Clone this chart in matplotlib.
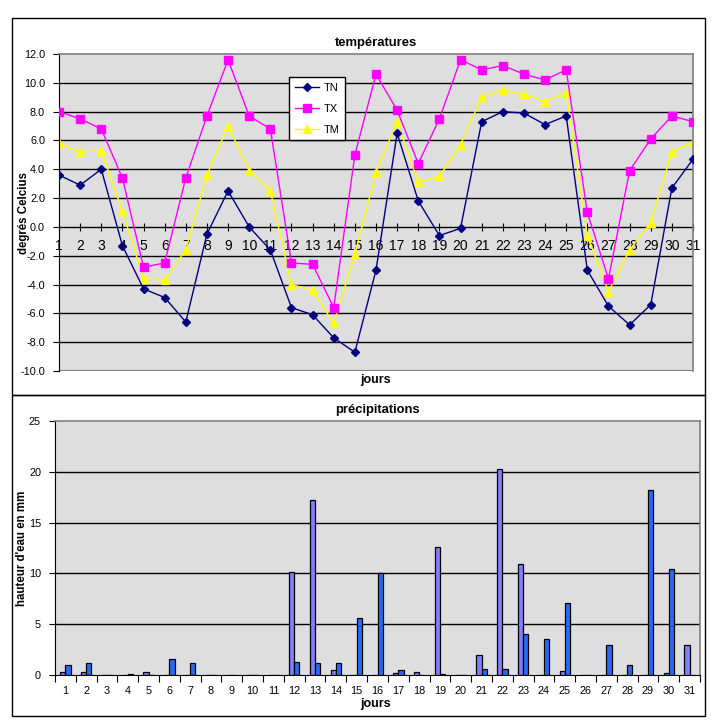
import numpy as np
import matplotlib
matplotlib.use("Agg")
import matplotlib.pyplot as plt
from matplotlib.patches import Rectangle

plt.rcParams['font.family'] = ['Liberation Sans', 'DejaVu Sans']

# Données de température (°C)
jours = list(range(1, 32))
tn = [3.6, 2.9, 4.0, -1.3, -4.3, -4.9, -6.6, -0.5, 2.5, 0.0, -1.6, -5.6, -6.1, -7.7, -8.7,
      -3.0, 6.5, 1.8, -0.6, -0.1, 7.3, 8.0, 7.9, 7.1, 7.7, -3.0, -5.5, -6.8, -5.4, 2.7, 4.7]
tx = [8.0, 7.5, 6.8, 3.4, -2.8, -2.5, 3.4, 7.7, 11.6, 7.7, 6.8, -2.5, -2.6, -5.6, 5.0,
      10.6, 8.1, 4.4, 7.5, 11.6, 10.9, 11.2, 10.6, 10.2, 10.9, 1.0, -3.6, 3.9, 6.1, 7.7, 7.3]
tm = [5.8, 5.2, 5.3, 1.1, -3.6, -3.7, -1.6, 3.6, 7.0, 3.9, 2.5, -4.0, -4.4, -6.7, -1.9,
      3.8, 7.3, 3.1, 3.5, 5.7, 9.0, 9.5, 9.2, 8.7, 9.3, -0.6, -4.5, -1.6, 0.3, 5.2, 5.9]

# Données de précipitations (mm)
precip1 = [0.3, 0.3, 0, 0, 0.3, 0, 0, 0, 0, 0, 0, 10.1, 17.2, 0.5, 0,
           0, 0.2, 0.3, 12.6, 0, 2.0, 20.3, 10.9, 0, 0.4, 0, 0, 0, 0, 0.2, 3.0]
precip2 = [1.0, 1.2, 0, 0.1, 0, 1.6, 1.2, 0, 0, 0, 0, 1.3, 1.2, 1.2, 5.6,
           10.0, 0.5, 0, 0.1, 0, 0.6, 0.6, 4.0, 3.5, 7.1, 0, 3.0, 1.0, 18.2, 10.4, 0]

W, H = 716, 721
fig = plt.figure(figsize=(W / 100, H / 100), dpi=100)
fig.patch.set_facecolor('white')

def box(x0, y0, x1, y1):
    return [x0 / W, 1 - y1 / H, (x1 - x0) / W, (y1 - y0) / H]

# Cadres des deux graphiques
for (x0, y0, x1, y1) in [(12, 18, 705, 395), (12, 395, 705, 716)]:
    fig.patches.append(Rectangle((x0 / W, 1 - y1 / H), (x1 - x0) / W, (y1 - y0) / H,
                                 transform=fig.transFigure, fill=False,
                                 edgecolor='black', linewidth=1.0))

plot_bg = '#DEDEDE'
fs = 7.8

# ---- Températures ----
ax1 = fig.add_axes(box(59, 54, 693, 371))
ax1.set_facecolor(plot_bg)
ax1.plot(jours, tn, color='#000080', marker='D', markersize=4.5, linewidth=1, label='TN', zorder=4)
ax1.plot(jours, tx, color='#FF00FF', marker='s', markersize=5.5, linewidth=1, label='TX', zorder=3)
ax1.plot(jours, tm, color='#FFFF00', marker='^', markersize=6, linewidth=1, label='TM', zorder=2)
ax1.set_xlim(1, 31)
ax1.set_ylim(-10, 12)
ax1.set_yticks(np.arange(-10, 12.1, 2))
ax1.set_yticklabels([f"{v:.1f}" for v in np.arange(-10, 12.1, 2)], fontsize=fs)
for v in np.arange(-8, 11, 2):
    if v != 0:
        ax1.axhline(v, color='black', linewidth=1, zorder=1)
ax1.set_xticks(jours)
ax1.set_xticklabels([str(j) for j in jours], fontsize=fs)
ax1.spines['bottom'].set_position(('data', 0))
ax1.spines['bottom'].set_linewidth(1)
ax1.spines['bottom'].set_zorder(1)
ax1.axhline(-10, color='#808080', linewidth=1.5, zorder=1)
for s in ['top', 'right']:
    ax1.spines[s].set_color('#808080')
    ax1.spines[s].set_linewidth(1.2)
ax1.tick_params(axis='x', direction='inout', length=6, pad=6, colors='black')
ax1.tick_params(axis='y', direction='out', length=4, pad=6)
ax1.set_title('températures', fontsize=9.4, fontweight='bold', pad=6)
ax1.set_ylabel('degrés Celcius', fontsize=8.3, fontweight='bold')
ax1.yaxis.set_label_coords((30 - 59) / 634, 0.5)
fig.text(376 / W, 1 - 380 / H, 'jours', fontsize=9, fontweight='bold', ha='center', va='center')
leg = ax1.legend(loc='upper left', bbox_to_anchor=(0.363, 0.927), fontsize=8,
                 frameon=True, fancybox=False, edgecolor='black', framealpha=1,
                 handlelength=2.2, borderpad=0.5, labelspacing=1.0, handletextpad=0.4,
                 borderaxespad=0)
leg.get_frame().set_linewidth(1)

# ---- Précipitations ----
ax2 = fig.add_axes(box(55, 421, 700, 675))
ax2.set_facecolor(plot_bg)
x = np.array(jours)
bw = 0.25
ax2.bar(x - bw / 2, precip1, width=bw, color='#7F7FFF', edgecolor='black', linewidth=0.9, zorder=3)
ax2.bar(x + bw / 2, precip2, width=bw, color='#2A6AF0', edgecolor='black', linewidth=0.9, zorder=3)
ax2.set_xlim(0.5, 31.5)
ax2.set_ylim(0, 25)
ax2.set_yticks([0, 5, 10, 15, 20, 25])
ax2.set_yticklabels(['0', '5', '10', '15', '20', '25'], fontsize=fs)
for v in [5, 10, 15, 20]:
    ax2.axhline(v, color='black', linewidth=1, zorder=1)
ax2.set_xticks(np.arange(0.5, 32, 1))
ax2.set_xticklabels([])
ax2.set_xticks(jours, minor=True)
ax2.set_xticklabels([str(j) for j in jours], minor=True, fontsize=fs)
ax2.tick_params(axis='x', which='major', direction='out', length=5)
ax2.tick_params(axis='x', which='minor', length=0, pad=8)
ax2.tick_params(axis='y', direction='out', length=4, pad=6)
for s in ['top', 'right']:
    ax2.spines[s].set_color('#808080')
    ax2.spines[s].set_linewidth(1.2)
ax2.set_title('précipitations', fontsize=9.4, fontweight='bold', pad=6)
ax2.set_ylabel("hauteur d'eau en mm", fontsize=8.3, fontweight='bold')
ax2.yaxis.set_label_coords((28 - 55) / 645, 0.5)
fig.text(376 / W, 1 - 704 / H, 'jours', fontsize=9, fontweight='bold', ha='center', va='center')

fig.savefig('out.png', dpi=100)
